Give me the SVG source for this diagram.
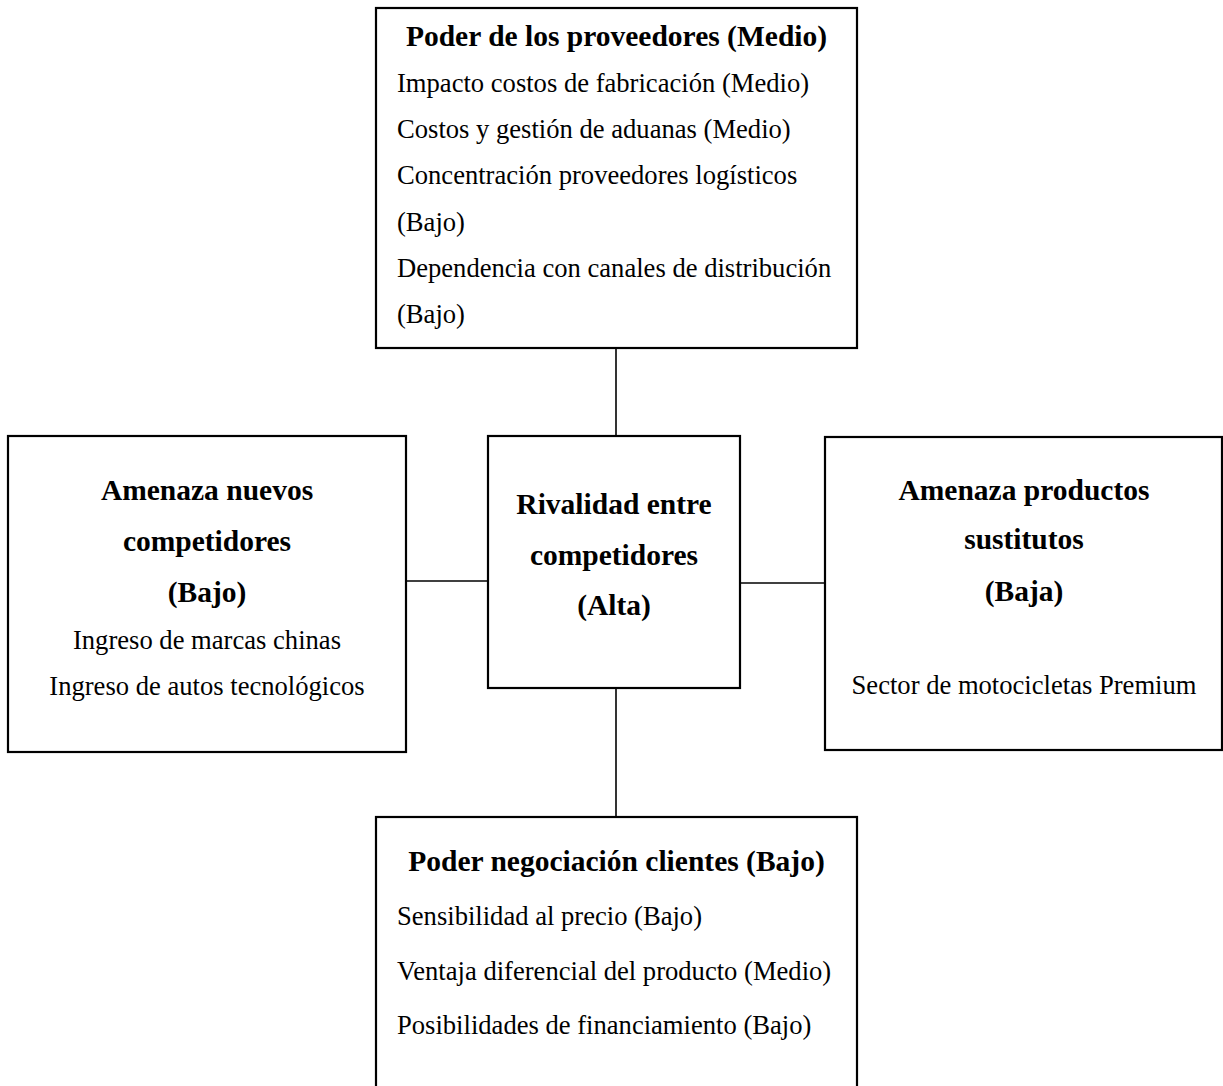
<svg xmlns="http://www.w3.org/2000/svg" width="1223" height="1086" viewBox="0 0 1223 1086">
<style>
.box{fill:#fff;stroke:#000;stroke-width:2.2}
.ln{stroke:#000;stroke-width:1.6;fill:none}
text{font-family:"Liberation Serif","Times New Roman",serif;font-size:26.6px;fill:#000}
.b{font-weight:bold;font-size:29.5px}
.c{text-anchor:middle}
</style>
<rect width="1223" height="1086" fill="#fff"/>
<g id="connectors">
<line class="ln" x1="616" y1="348" x2="616" y2="437"/>
<line class="ln" x1="406" y1="581" x2="488" y2="581"/>
<line class="ln" x1="740" y1="583" x2="825" y2="583"/>
<line class="ln" x1="616" y1="688" x2="616" y2="817"/>
</g>
<g id="proveedores">
<rect class="box" x="376" y="8" width="481" height="340"/>
<text class="b c" x="616.5" y="46">Poder de los proveedores (Medio)</text>
<text x="397" y="92">Impacto costos de fabricación (Medio)</text>
<text x="397" y="138">Costos y gestión de aduanas (Medio)</text>
<text x="397" y="184">Concentración proveedores logísticos</text>
<text x="397" y="231">(Bajo)</text>
<text x="397" y="277">Dependencia con canales de distribución</text>
<text x="397" y="323">(Bajo)</text>
</g>
<g id="nuevos">
<rect class="box" x="8" y="436" width="398" height="316"/>
<text class="b c" x="207" y="500">Amenaza nuevos</text>
<text class="b c" x="207" y="551">competidores</text>
<text class="b c" x="207" y="602">(Bajo)</text>
<text class="c" x="207" y="649">Ingreso de marcas chinas</text>
<text class="c" x="207" y="695">Ingreso de autos tecnológicos</text>
</g>
<g id="rivalidad">
<rect class="box" x="488" y="436" width="252" height="252"/>
<text class="b c" x="614" y="514">Rivalidad entre</text>
<text class="b c" x="614" y="565">competidores</text>
<text class="b c" x="614" y="615">(Alta)</text>
</g>
<g id="sustitutos">
<rect class="box" x="825" y="437" width="397" height="313"/>
<text class="b c" x="1024" y="500">Amenaza productos</text>
<text class="b c" x="1024" y="549">sustitutos</text>
<text class="b c" x="1024" y="601">(Baja)</text>
<text class="c" x="1024" y="694">Sector de motocicletas Premium</text>
</g>
<g id="clientes">
<rect class="box" x="376" y="817" width="481" height="290"/>
<text class="b c" x="616.5" y="871">Poder negociación clientes (Bajo)</text>
<text x="397" y="925">Sensibilidad al precio (Bajo)</text>
<text x="397" y="980">Ventaja diferencial del producto (Medio)</text>
<text x="397" y="1034">Posibilidades de financiamiento (Bajo)</text>
</g>
</svg>
